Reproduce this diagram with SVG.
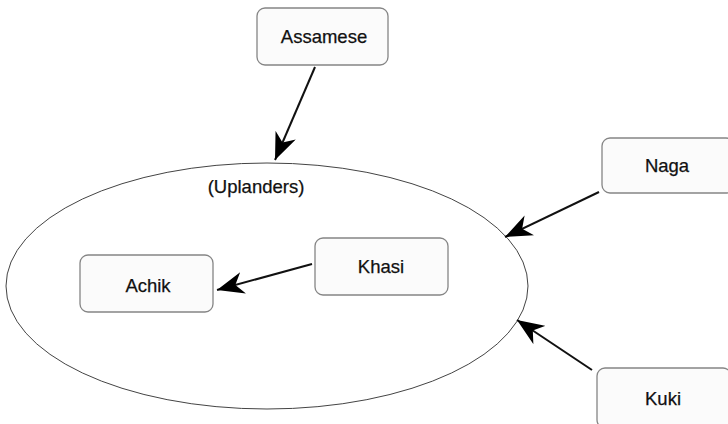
<svg xmlns="http://www.w3.org/2000/svg" width="728" height="424" viewBox="0 0 728 424">
<style>
.box{fill:#fbfbfb;stroke:#858585;stroke-width:1.3}
.lbl{font-family:"Liberation Sans",Arial,sans-serif;font-size:18.5px;fill:#111;text-anchor:middle;stroke:#111;stroke-width:0.25}
.edge{stroke:#111;stroke-width:2;fill:none}
</style>
<defs>
<marker id="ah" viewBox="0 0 27 22" refX="27" refY="11" markerWidth="27" markerHeight="22" markerUnits="userSpaceOnUse" orient="auto">
<path d="M0,0 L27,11 L0,22 L8,11 z" fill="#000"/>
</marker>
</defs>
<rect width="728" height="424" fill="#fff"/>
<g id="uplanders">
<ellipse cx="267" cy="286" rx="261" ry="123" fill="none" stroke="#444" stroke-width="1"/>
<text class="lbl" x="256" y="193" font-size="20.5">(Uplanders)</text>
</g>
<g id="assamese">
<rect class="box" x="257" y="8" width="131" height="57" rx="8"/>
<text class="lbl" x="324" y="43">Assamese</text>
</g>
<g id="naga">
<rect class="box" x="602" y="138" width="132" height="55" rx="8"/>
<text class="lbl" x="667" y="172">Naga</text>
</g>
<g id="kuki">
<rect class="box" x="597" y="368" width="134" height="60" rx="8"/>
<text class="lbl" x="663" y="405">Kuki</text>
</g>
<g id="khasi">
<rect class="box" x="315" y="238" width="133" height="57" rx="8"/>
<text class="lbl" x="381" y="273">Khasi</text>
</g>
<g id="achik">
<rect class="box" x="80" y="255" width="133" height="57" rx="8"/>
<text class="lbl" x="148" y="292">Achik</text>
</g>
<g id="connectors">
<line class="edge" x1="315" y1="67" x2="275" y2="160" marker-end="url(#ah)"/>
<line class="edge" x1="599" y1="192" x2="505" y2="237" marker-end="url(#ah)"/>
<line class="edge" x1="592" y1="370" x2="517" y2="320" marker-end="url(#ah)"/>
<line class="edge" x1="312" y1="264" x2="217" y2="290" marker-end="url(#ah)"/>
</g>
</svg>
